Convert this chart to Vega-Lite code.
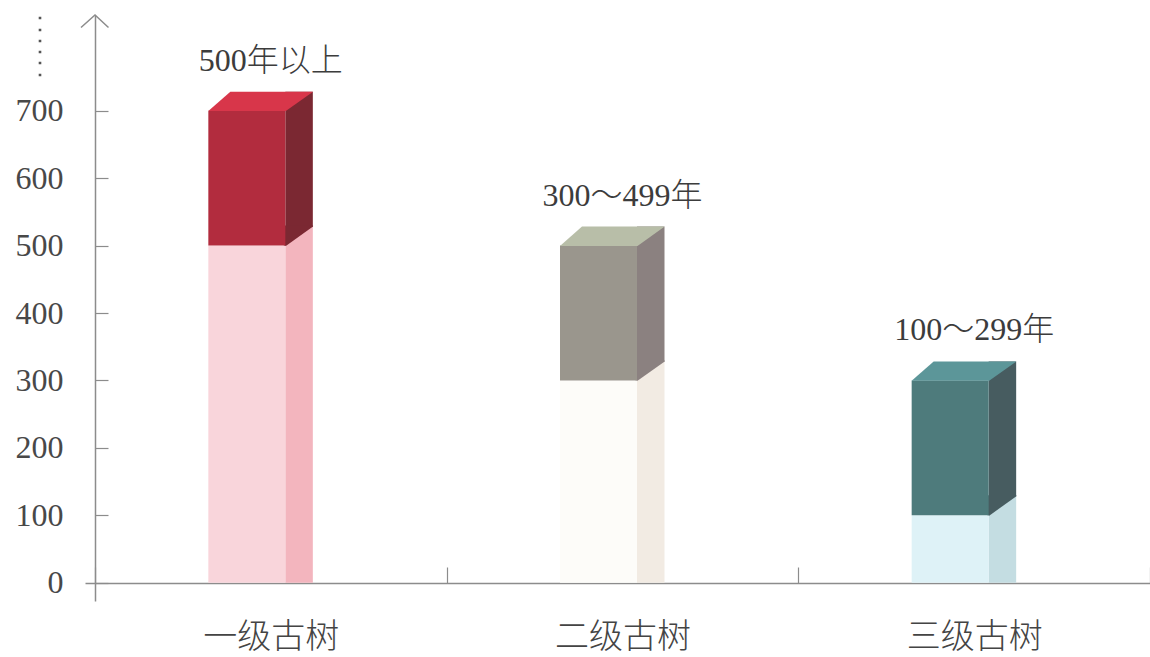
{
  "$schema": "https://vega.github.io/schema/vega-lite/v6.json",
  "width": 1065,
  "height": 586,
  "autosize": {"type": "none"},
  "padding": {"left": 85, "top": 15, "right": 0, "bottom": 56},
  "background": "#ffffff",
  "config": {"view": {"stroke": null}, "axis": {"grid": false}},
  "data": {
    "values": [
      {"tier": "一级古树", "label": "500年以上", "low": 500, "high": 700},
      {"tier": "二级古树", "label": "300～499年", "low": 300, "high": 500},
      {"tier": "三级古树", "label": "100～299年", "low": 100, "high": 300}
    ]
  },
  "resolve": {"scale": {"color": "independent"}},
  "layer": [
    {
      "mark": {"type": "bar", "width": 27.5, "xOffset": 28.25, "yOffset": -19, "y2Offset": 0},
      "encoding": {
        "x": {
          "field": "tier", "type": "nominal", "title": null,
          "scale": {"domain": ["一级古树", "二级古树", "三级古树"], "paddingInner": 0, "paddingOuter": 0.01422, "align": 1},
          "axis": {
            "orient": "bottom", "offset": -18, "domainColor": "#8c8c8c", "domainWidth": 1.5,
            "tickColor": "#8c8c8c", "tickWidth": 1.2, "tickSize": -16, "tickBand": "extent",
            "labelFont": "Noto Sans CJK SC", "labelFontSize": 34, "labelFontWeight": 300, "labelColor": "#444444",
            "labelPadding": 53, "labelAngle": 0
          }
        },
        "y": {
          "field": "low", "type": "quantitative", "title": null,
          "scale": {"domain": [-27, 842], "nice": false, "zero": false},
          "axis": {
            "offset": -10, "values": [0, 100, 200, 300, 400, 500, 600, 700],
            "domainColor": "#8c8c8c", "domainWidth": 1.5, "tickColor": "#8c8c8c", "tickWidth": 1.2,
            "tickSize": -13, "labelFont": "Liberation Serif", "labelFontSize": 32,
            "labelColor": "#484848", "labelPadding": 45
          }
        },
        "y2": {"datum": 0},
        "color": {"field": "tier", "type": "nominal", "legend": null,
          "scale": {"domain": ["一级古树", "二级古树", "三级古树"], "range": ["#f3b5be", "#f2ebe3", "#c4dde2"]}}
      }
    },
    {
      "mark": {"type": "bar", "width": 27.5, "xOffset": 28.25, "yOffset": -19, "y2Offset": -19},
      "encoding": {
        "x": {"field": "tier", "type": "nominal", "title": null},
        "y": {"field": "high", "type": "quantitative", "title": null},
        "y2": {"field": "low"},
        "color": {"field": "tier", "type": "nominal", "legend": null,
          "scale": {"domain": ["一级古树", "二级古树", "三级古树"], "range": ["#7b2832", "#8b8180", "#475c60"]}}
      }
    },
    {
      "mark": {"type": "point", "shape": "M0.37,-0.2L0.662,-0.2L0.662,-0.19L0.39,0.003L0.37,0.003Z", "size": 40000, "filled": true, "opacity": 1, "strokeWidth": 0, "xOffset": -24},
      "encoding": {
        "x": {"field": "tier", "type": "nominal", "title": null},
        "y": {"field": "low", "type": "quantitative", "title": null},
        "color": {"field": "tier", "type": "nominal", "legend": null,
          "scale": {"domain": ["一级古树", "二级古树", "三级古树"], "range": ["#7b2832", "#8b8180", "#475c60"]}}
      }
    },
    {
      "mark": {"type": "bar", "width": 77, "xOffset": -24},
      "encoding": {
        "x": {"field": "tier", "type": "nominal", "title": null},
        "y": {"field": "low", "type": "quantitative", "title": null},
        "y2": {"datum": 0},
        "color": {"field": "tier", "type": "nominal", "legend": null,
          "scale": {"domain": ["一级古树", "二级古树", "三级古树"], "range": ["#f9d5db", "#fdfcf9", "#def2f7"]}}
      }
    },
    {
      "mark": {"type": "bar", "width": 77, "xOffset": -24},
      "encoding": {
        "x": {"field": "tier", "type": "nominal", "title": null},
        "y": {"field": "high", "type": "quantitative", "title": null},
        "y2": {"field": "low"},
        "color": {"field": "tier", "type": "nominal", "legend": null,
          "scale": {"domain": ["一级古树", "二级古树", "三级古树"], "range": ["#b22c3e", "#9a968d", "#4e7b7c"]}}
      }
    },
    {
      "mark": {"type": "point", "shape": "M-0.385,0.003L0.39,0.003L0.662,-0.19L-0.165,-0.19Z", "size": 40000, "filled": true, "opacity": 1, "strokeWidth": 0, "xOffset": -24},
      "encoding": {
        "x": {"field": "tier", "type": "nominal", "title": null},
        "y": {"field": "high", "type": "quantitative", "title": null},
        "color": {"field": "tier", "type": "nominal", "legend": null,
          "scale": {"domain": ["一级古树", "二级古树", "三级古树"], "range": ["#d8364a", "#b8bea8", "#5c9699"]}}
      }
    },
    {
      "mark": {"type": "text", "dy": -40, "baseline": "alphabetic", "align": "center", "font": "Liberation Serif, Noto Sans CJK SC", "fontSize": 32, "fontWeight": 300, "color": "#3c3c3c"},
      "encoding": {
        "x": {"field": "tier", "type": "nominal", "title": null},
        "y": {"field": "high", "type": "quantitative", "title": null},
        "text": {"field": "label"}
      }
    },
    {
      "data": {"values": [{"k": 1}]},
      "mark": {"type": "point", "shape": "M-0.14,0.125L0,0L0.135,0.125", "size": 40000, "filled": false, "opacity": 1, "stroke": "#8c8c8c", "strokeWidth": 1.5},
      "encoding": {
        "x": {"datum": "一级古树", "type": "nominal", "bandPosition": 0, "title": null},
        "y": {"datum": 842, "type": "quantitative", "title": null}
      }
    },
    {
      "data": {"values": [{"k": 1}]},
      "mark": {"type": "point", "shape": "M-0.563,0.017h0.026v0.026h-0.026Z M-0.563,0.137h0.026v0.026h-0.026Z M-0.563,0.247h0.026v0.026h-0.026Z M-0.563,0.357h0.026v0.026h-0.026Z M-0.563,0.467h0.026v0.026h-0.026Z M-0.563,0.587h0.026v0.026h-0.026Z", "size": 40000, "filled": true, "opacity": 1, "strokeWidth": 0, "fill": "#555555"},
      "encoding": {
        "x": {"datum": "一级古树", "type": "nominal", "bandPosition": 0, "title": null},
        "y": {"datum": 842, "type": "quantitative", "title": null}
      }
    }
  ]
}
